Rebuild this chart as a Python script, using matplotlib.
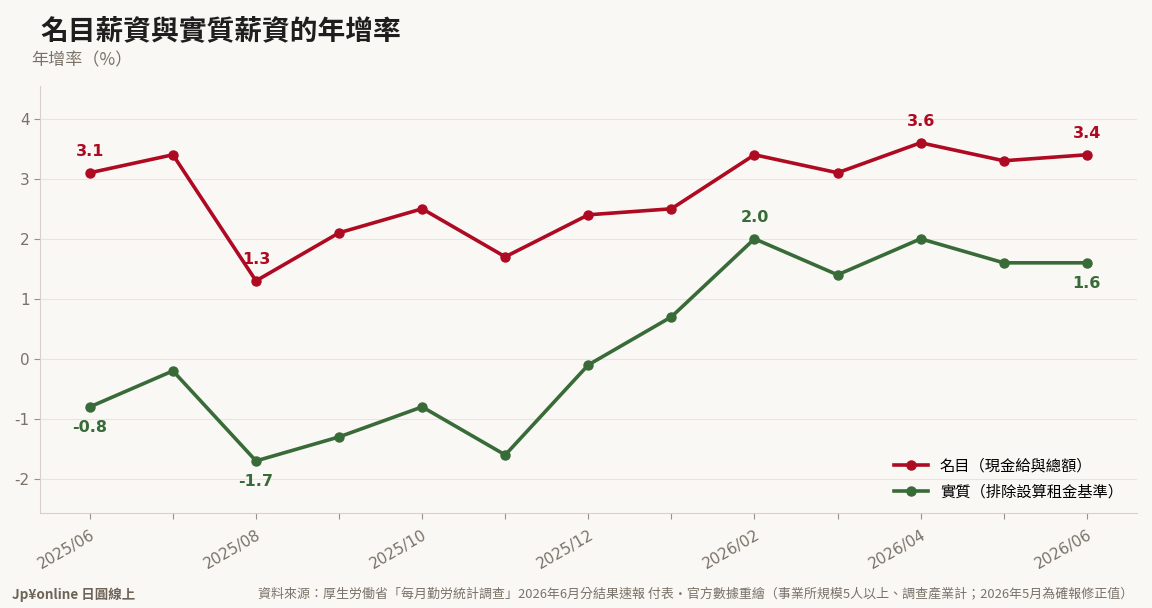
import matplotlib
matplotlib.use("Agg")
import matplotlib.pyplot as plt

plt.rcParams['font.family'] = ['DejaVu Sans', 'Noto Sans CJK TC']
plt.rcParams['axes.unicode_minus'] = False
cjk = ['Noto Sans CJK TC', 'DejaVu Sans']

months = ["2025/06", "2025/07", "2025/08", "2025/09", "2025/10", "2025/11", "2025/12",
          "2026/01", "2026/02", "2026/03", "2026/04", "2026/05", "2026/06"]
nominal = [3.1, 3.4, 1.3, 2.1, 2.5, 1.7, 2.4, 2.5, 3.4, 3.1, 3.6, 3.3, 3.4]
real = [-0.8, -0.2, -1.7, -1.3, -0.8, -1.6, -0.1, 0.7, 2.0, 1.4, 2.0, 1.6, 1.6]
yticks = [-2, -1, 0, 1, 2, 3, 4]

# which points get a value label, and whether above (+) or below (-)
nominal_labels = {0: 1, 2: 1, 10: 1, 12: 1}
real_labels = {0: -1, 2: -1, 8: 1, 12: -1}

red = "#AE0A22"
green = "#386B38"
bg = "#FAF8F5"
grey = "#7A7268"

fig = plt.figure(figsize=(11.52, 6.08), dpi=100, facecolor=bg)
ax = fig.add_axes([0.0347, 0.156, 0.952, 0.703])
ax.set_facecolor(bg)

x = list(range(len(months)))
ax.plot(x, nominal, color=red, lw=2.6, marker="o", ms=6.5, label="名目（現金給與總額）", zorder=3)
ax.plot(x, real, color=green, lw=2.6, marker="o", ms=6.5, label="實質（排除設算租金基準）", zorder=3)

for i, d in nominal_labels.items():
    ax.annotate(f"{nominal[i]:.1f}", (i, nominal[i]), xytext=(0, 15 * d), textcoords="offset points",
                ha="center", va="center", color=red, fontsize=11.5, fontweight="bold")
for i, d in real_labels.items():
    ax.annotate(f"{real[i]:.1f}", (i, real[i]), xytext=(0, 15 * d), textcoords="offset points",
                ha="center", va="center", color=green, fontsize=11.5, fontweight="bold")

ax.set_xlim(-0.6, 12.6)
ax.set_ylim(-2.57, 4.55)
ax.set_yticks(yticks)
ax.set_yticklabels([str(v) for v in yticks])
ax.set_xticks(x)
ax.set_xticklabels([m if i % 2 == 0 else "" for i, m in enumerate(months)],
                   rotation=30, ha="right", rotation_mode="anchor")
ax.tick_params(axis="both", colors="#9A9088", labelcolor=grey, labelsize=11, length=4)
ax.tick_params(axis="x", pad=6)
ax.grid(axis="y", color="#EDE3DC", lw=0.8)
ax.set_axisbelow(True)
for s in ["top", "right"]:
    ax.spines[s].set_visible(False)
for s in ["left", "bottom"]:
    ax.spines[s].set_color("#D8D0C8")

leg = ax.legend(loc="lower right", bbox_to_anchor=(1.0, -0.003), frameon=False, prop={'family': cjk, 'size': 11},
                handlelength=2.2, labelspacing=0.6)

fig.text(0.035, 0.948, "名目薪資與實質薪資的年增率", fontsize=20, fontweight="bold", color="#1E1E1E",
         va="center", family=cjk)
fig.text(0.027, 0.900, "年增率（%）", fontsize=12.3, color=grey, va="center", family=cjk)
fig.text(0.010, 0.022, "Jp¥online 日圓線上", fontsize=9.7, fontweight="bold", color="#6E6458", va="center",
         family=cjk)
fig.text(0.984, 0.022, "資料來源：厚生労働省「每月勤労統計調查」2026年6月分結果速報 付表・官方數據重繪（事業所規模5人以上、調查產業計；2026年5月為確報修正值）",
         fontsize=9.35, color=grey, ha="right", va="center", family=cjk)

fig.savefig("out.png", dpi=100, facecolor=bg)
